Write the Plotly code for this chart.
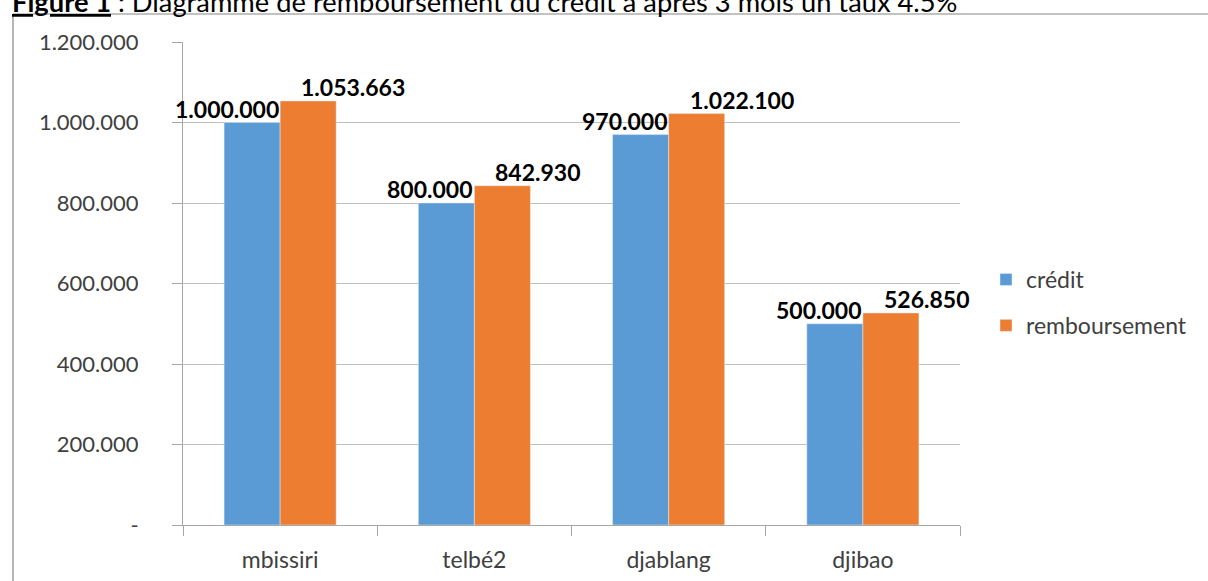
import plotly.graph_objects as go

categories = ["mbissiri", "telbé2", "djablang", "djibao"]
credit = [1000000, 800000, 970000, 500000]
remboursement = [1053663, 842930, 1022100, 526850]
credit_labels = ["1.000.000", "800.000", "970.000", "500.000"]
remb_labels = ["1.053.663", "842.930", "1.022.100", "526.850"]
tick_vals = [0, 200000, 400000, 600000, 800000, 1000000, 1200000]
tick_text = ["-", "200.000", "400.000", "600.000", "800.000", "1.000.000", "1.200.000"]
title_text = "<b><u>Figure 1</u></b> : Diagramme de remboursement du crédit à après 3 mois un taux 4.5%"

BLUE = "#5B9BD5"
ORANGE = "#ED7D31"
FONT = "Lato"

W, H = 1208, 581
L, R, T, B = 183, 248, 42, 56
pw = W - L - R
ph = H - T - B

fig = go.Figure()
fig.add_trace(go.Bar(x=categories, y=credit, name="crédit", marker_color=BLUE,
                     legendgroup="a"))
fig.add_trace(go.Bar(x=categories, y=remboursement, name="remboursement",
                     marker_color=ORANGE, legendgroup="b"))

lab_font = dict(family=FONT, size=23, color="#000000", weight="bold")
ann = []
for c, v, t in zip(categories, credit, credit_labels):
    ann.append(dict(x=c, y=v, text=t, xref="x", yref="y", showarrow=False,
                    xanchor="right", yanchor="bottom", xshift=1, yshift=-2,
                    font=lab_font))
for c, v, t in zip(categories, remboursement, remb_labels):
    ann.append(dict(x=c, y=v, text=t, xref="x", yref="y", showarrow=False,
                    xanchor="left", yanchor="bottom", xshift=19, yshift=-2,
                    font=lab_font))

def px_x(x):
    return (x - L) / pw

def px_y(y):
    return (H - B - y) / ph

ann.append(dict(x=px_x(10), y=px_y(20), xref="paper", yref="paper", text=title_text,
                showarrow=False, xanchor="left", yanchor="bottom",
                font=dict(family=FONT, size=27.3, color="#000000")))

shapes = [
    dict(type="line", xref="paper", yref="paper", x0=px_x(13), x1=px_x(1212),
         y0=px_y(14), y1=px_y(14), line=dict(color="#868686", width=1.2)),
    dict(type="line", xref="paper", yref="paper", x0=px_x(13), x1=px_x(13),
         y0=px_y(14), y1=px_y(590), line=dict(color="#868686", width=1.2)),
]

fig.update_layout(
    width=W, height=H,
    margin=dict(l=L, r=R, t=T, b=B, autoexpand=False),
    paper_bgcolor="white", plot_bgcolor="white",
    barmode="group", bargap=0.423, bargroupgap=0,
    font=dict(family=FONT, size=22, color="#404040"),
    annotations=ann, shapes=shapes,
    legend=dict(x=px_x(986), y=px_y(258), xanchor="left", yanchor="top",
                font=dict(family=FONT, size=23, color="#404040"),
                tracegroupgap=13, traceorder="grouped", itemwidth=30,
                bgcolor="rgba(0,0,0,0)"),
    xaxis=dict(range=[-0.5, 3.5], autorange=False,
               showgrid=False, showline=True, linecolor="#A6A6A6", linewidth=1,
               ticks="outside", tickson="boundaries", ticklen=10, tickcolor="#A6A6A6",
               tickfont=dict(family=FONT, size=23, color="#404040"),
               ticklabelstandoff=14),
    yaxis=dict(range=[0, 1200000], tickvals=tick_vals, ticktext=tick_text,
               showgrid=True, gridcolor="#BFBFBF", gridwidth=1,
               showline=True, linecolor="#A6A6A6", linewidth=1,
               ticks="outside", ticklen=10, tickcolor="#A6A6A6",
               tickfont=dict(family=FONT, size=22, color="#404040"),
               zeroline=False, ticklabelstandoff=29),
)

fig.write_html("out.html", config={"displayModeBar": False},
               post_script="document.body.style.margin='0px';")
